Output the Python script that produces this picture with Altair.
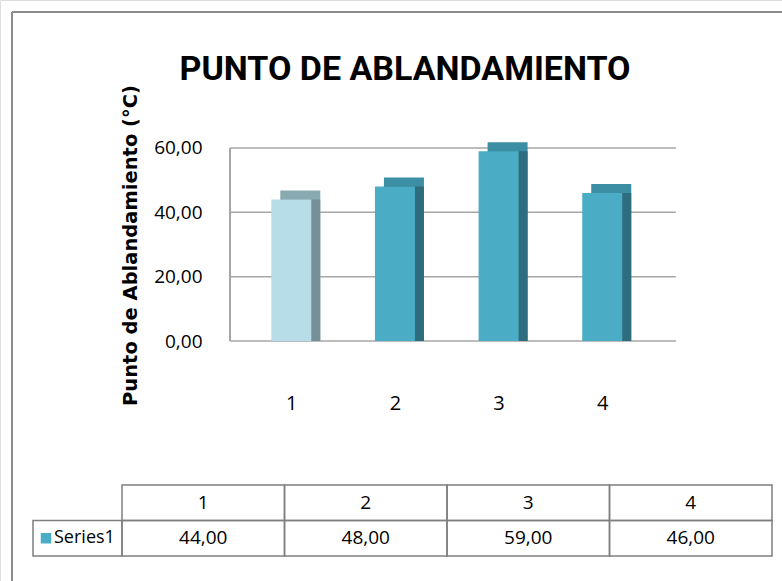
import altair as alt
import pandas as pd

# ---- data ----
categories = [1, 2, 3, 4]
values = [44.0, 48.0, 59.0, 46.0]
y_ticks = [0, 20, 40, 60]
series_name = "Series1"
title_text = "PUNTO DE ABLANDAMIENTO"
y_title = "Punto de Ablandamiento (°C)"

# ---- styles ----
front_colors = ["#B7DEE8", "#4BACC6", "#4BACC6", "#4BACC6"]
top_colors = ["#8AAAB2", "#3B8EA3", "#3B8EA3", "#3B8EA3"]
side_colors = ["#76909A", "#2E6D7D", "#2E6D7D", "#2E6D7D"]
GRID = "#A6A6A6"
BORDER = "#7F7F7F"
FONT = "Open Sans, sans-serif"
W, H = 782, 581

fmt_expr = "replace(format(datum.value, '.2f'), '.', ',')"

# ---- scales for the bar part ----
xs = alt.Scale(domain=[-1.762, 5.686], nice=False, zero=False)
ys = alt.Scale(domain=[-74.6, 106.0], nice=False, zero=False)

x_axis = alt.Axis(values=categories, format="d", title=None, domain=False, ticks=False,
                  grid=False, offset=-196, labelPadding=8, labelFont=FONT,
                  labelFontSize=20, labelColor="#000000")
y_axis = alt.Axis(values=y_ticks, title=y_title, labelExpr=fmt_expr, domain=False,
                  ticks=False, grid=False, offset=-214, labelPadding=12,
                  labelFont=FONT, labelFontSize=19, labelColor="#000000",
                  titleFont="DejaVu Sans", titleFontSize=19.5, titleFontWeight="bold",
                  titleColor="#000000", titleX=-84, titleY=245, titleAngle=-90,
                  titleAlign="center", titleBaseline="middle")

bars_df = pd.DataFrame({"cat": categories, "value": values})
grid_df = pd.DataFrame({"tick": y_ticks})

grid = alt.Chart(grid_df).mark_rule(color=GRID, strokeWidth=1.5).encode(
    y=alt.Y("tick:Q", scale=ys, axis=y_axis),
    x=alt.X(datum=0.41, scale=xs, axis=x_axis),
    x2=alt.X2(datum=4.71),
)
wall = alt.Chart(grid_df).mark_rule(color=GRID, strokeWidth=1.5).encode(
    x=alt.X(datum=0.41, scale=xs, axis=x_axis),
    y=alt.Y(datum=y_ticks[0], scale=ys, axis=y_axis),
    y2=alt.Y2(datum=y_ticks[-1]),
)


def bar_layer(colors, dx, dy):
    return alt.Chart(bars_df).mark_bar(size=40, xOffset=dx, yOffset=dy, orient="vertical").encode(
        x=alt.X("cat:Q", scale=xs, axis=x_axis),
        y=alt.Y("value:Q", scale=ys, axis=y_axis),
        y2=alt.Y2(datum=0),
        color=alt.Color("cat:N", scale=alt.Scale(domain=categories, range=colors), legend=None),
    )


top_face = bar_layer(top_colors, 9, -9)
side_face = bar_layer(side_colors, 9, 0)
front_face = bar_layer(front_colors, 0, 0)

bars = alt.layer(grid, wall, top_face, side_face, front_face).resolve_scale(color="independent")

# ---- data table below ----
tx = alt.Scale(domain=[-0.7508, 4.0615], nice=False, zero=False)
ty = alt.Scale(domain=[-13.662, 2.704], nice=False, zero=False, reverse=True)
label_x0 = -0.5477

cells = []
for c in categories:
    cells.append({"x0": c - 1, "x1": c, "r0": 0, "r1": 1})
    cells.append({"x0": c - 1, "x1": c, "r0": 1, "r1": 2})
cells.append({"x0": label_x0, "x1": 0, "r0": 1, "r1": 2})
cells_df = pd.DataFrame(cells)

texts_df = pd.DataFrame(
    [{"xc": c - 0.5, "rc": 0.5, "value": float(c), "kind": "h"} for c in categories]
    + [{"xc": c - 0.5, "rc": 1.5, "value": v, "kind": "v"} for c, v in zip(categories, values)]
)

cell_marks = alt.Chart(cells_df).mark_rect(fillOpacity=0, stroke=BORDER, strokeWidth=1.5).encode(
    x=alt.X("x0:Q", scale=tx, axis=None), x2="x1:Q",
    y=alt.Y("r0:Q", scale=ty, axis=None), y2="r1:Q",
)
text_marks = alt.Chart(texts_df).transform_calculate(
    label="datum.kind == 'h' ? format(datum.value, 'd') : " + fmt_expr
).mark_text(font=FONT, fontSize=19, color="#000000", baseline="middle").encode(
    x=alt.X("xc:Q", scale=tx, axis=None),
    y=alt.Y("rc:Q", scale=ty, axis=None),
    text="label:N",
)
label_df = pd.DataFrame({"xl": [label_x0], "rl": [1.5], "name": [series_name]})
series_text = alt.Chart(label_df).mark_text(font=FONT, fontSize=18, color="#000000",
                                            align="left", baseline="middle", dx=21).encode(
    x=alt.X("xl:Q", scale=tx, axis=None),
    y=alt.Y("rl:Q", scale=ty, axis=None),
    text="name:N",
)
swatch = alt.Chart(label_df).mark_square(size=110, color=front_colors[1], opacity=1,
                                         xOffset=13).encode(
    x=alt.X("xl:Q", scale=tx, axis=None),
    y=alt.Y("rl:Q", scale=ty, axis=None),
)
table = alt.layer(cell_marks, text_marks, series_text, swatch)

# ---- outer frame ----
frame_df = pd.DataFrame({"k": [0]})
frame_left = alt.Chart(frame_df).mark_rule(color="#8C8C8C", strokeWidth=2).encode(
    x=alt.value(12), y=alt.value(12), y2=alt.value(H))
frame_top = alt.Chart(frame_df).mark_rule(color="#8C8C8C", strokeWidth=2).encode(
    y=alt.value(12), x=alt.value(12), x2=alt.value(W))
frame = alt.layer(frame_left, frame_top)

chart = alt.layer(frame, bars, table).resolve_scale(x="independent", y="independent").properties(
    width=W, height=H,
    autosize=alt.AutoSizeParams(type="none"),
    padding=0,
    title=alt.TitleParams(title_text, font="Roboto, Open Sans, sans-serif", fontSize=34,
                          fontWeight="bold", color="#000000", anchor="middle", dx=14,
                          offset=-87),
).configure_view(stroke=None).configure(background="white")

chart.save("out.html", embed_options={"renderer": "svg", "actions": False})
